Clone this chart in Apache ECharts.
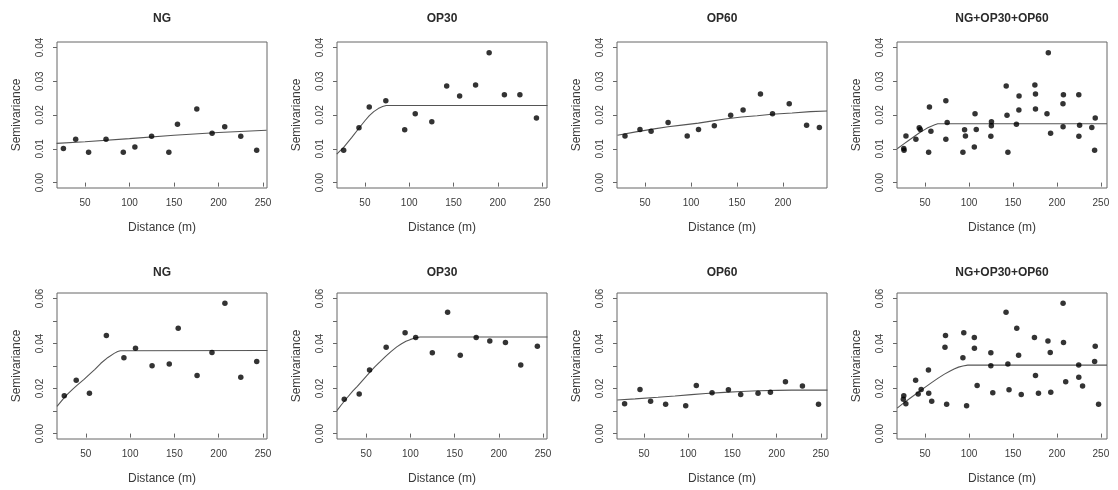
<!DOCTYPE html>
<html>
<head>
<meta charset="utf-8">
<script src="https://cdn.jsdelivr.net/npm/echarts@6/dist/echarts.min.js"></script>
<style>
html,body{margin:0;padding:0;background:#fff;}
#chart{width:1118px;height:490px;}
</style>
</head>
<body>
<div id="chart"></div>
<script>
// ---------- data ----------
const panelTitles = ['NG', 'OP30', 'OP60', 'NG+OP30+OP60'];
const xTickValues = [50, 100, 150, 200, 250];
const xTickValuesShort = [50, 100, 150, 200];
const yTickTop = [0, 0.01, 0.02, 0.03, 0.04];
const yTickBottom = [0, 0.01, 0.02, 0.03, 0.04, 0.05, 0.06];
const yLabelBottom = [0, 0.02, 0.04, 0.06];

// top row
const ngTopDist = [25.7, 39.5, 54, 73.6, 93, 106, 124.8, 144.2, 153.9, 175.6, 192.8, 207, 225, 242.9];
const ngTopSemi = [0.0101, 0.0128, 0.0090, 0.0128, 0.0090, 0.0105, 0.0137, 0.0090, 0.0173, 0.0218, 0.0146, 0.0165, 0.0137, 0.0096];
const op30TopDist = [26, 43.3, 54.9, 73.6, 94.9, 106.8, 125.5, 142.3, 156.9, 174.9, 190.2, 207.4, 224.9, 243.6];
const op30TopSemi = [0.0096, 0.0162, 0.0224, 0.0242, 0.0156, 0.0204, 0.0180, 0.0286, 0.0256, 0.0289, 0.0384, 0.0260, 0.0260, 0.0191];
const op60TopDist = [28.2, 44.5, 56.6, 75.1, 95.9, 108.2, 125.4, 143.2, 156.7, 175.6, 188.7, 206.9, 225.8, 239.7];
const op60TopSemi = [0.0138, 0.0157, 0.0152, 0.0178, 0.0138, 0.0157, 0.0168, 0.0199, 0.0215, 0.0262, 0.0204, 0.0233, 0.0170, 0.0163];

const ngTopFitDist = [18, 50, 100, 150, 200, 254];
const ngTopFitSemi = [0.0116, 0.0121, 0.0130, 0.0140, 0.0148, 0.0155];
const op30TopFitDist = [18.2, 26, 35, 43, 50, 55, 60, 65, 70, 74, 256];
const op30TopFitSemi = [0.0084, 0.0104, 0.0133, 0.0160, 0.0183, 0.0198, 0.0210, 0.0219, 0.0225, 0.0228, 0.0228];
const op60TopFitDist = [20, 40, 60, 75, 90, 108, 122, 137, 155, 172, 188, 210, 230, 248];
const op60TopFitSemi = [0.0140, 0.0150, 0.0159, 0.0165, 0.0170, 0.0176, 0.0182, 0.0188, 0.0194, 0.0198, 0.0202, 0.0206, 0.0210, 0.0212];
const allTopFitDist = [18.2, 25, 32, 38, 44, 49, 53, 57, 61, 64.4, 257];
const allTopFitSemi = [0.0100, 0.0113, 0.0126, 0.0137, 0.0148, 0.0156, 0.0162, 0.0167, 0.0171, 0.0174, 0.0174];

// bottom row
const ngBotDist = [25.7, 39.2, 54.1, 73.2, 93, 106.1, 124.8, 144.2, 154.3, 175.6, 192.4, 207, 224.9, 242.9];
const ngBotSemi = [0.0168, 0.0237, 0.0179, 0.0435, 0.0337, 0.0379, 0.0301, 0.0309, 0.0468, 0.0258, 0.0360, 0.0578, 0.0250, 0.0320];
const op30BotDist = [25.2, 42.1, 53.8, 72.6, 94, 106, 124.8, 142.1, 156.4, 174.4, 189.8, 207.5, 224.8, 243.6];
const op30BotSemi = [0.0152, 0.0176, 0.0282, 0.0383, 0.0448, 0.0426, 0.0359, 0.0539, 0.0348, 0.0426, 0.0411, 0.0404, 0.0304, 0.0388];
const op60BotDist = [28.1, 45.5, 57.5, 74.5, 97.2, 109.2, 127, 145.5, 159.4, 179, 193, 210, 229.2, 247.4];
const op60BotSemi = [0.0132, 0.0196, 0.0143, 0.0130, 0.0124, 0.0214, 0.0181, 0.0195, 0.0174, 0.0179, 0.0183, 0.0230, 0.0211, 0.0130];

const ngBotFitDist = [17.5, 25.7, 30, 35, 40, 48, 55, 60, 67, 75, 82, 86, 89, 255];
const ngBotFitSemi = [0.0121, 0.0160, 0.0177, 0.0196, 0.0214, 0.0241, 0.0266, 0.0284, 0.0312, 0.0338, 0.0356, 0.0364, 0.0368, 0.0369];
const op30BotFitDist = [16.9, 22, 28.2, 35, 40, 47, 55, 60, 65.8, 72, 78, 84.6, 90, 95, 99.6, 105, 110.9, 255];
const op30BotFitSemi = [0.0102, 0.0128, 0.0158, 0.0190, 0.0210, 0.0241, 0.0276, 0.0297, 0.0319, 0.0343, 0.0364, 0.0385, 0.0399, 0.0410, 0.0417, 0.0424, 0.0429, 0.0429];
const op60BotFitDist = [19.8, 40, 65.8, 85, 103.6, 120, 141, 160, 179, 200, 216.8, 257.5];
const op60BotFitSemi = [0.0149, 0.0154, 0.0161, 0.0167, 0.0173, 0.0178, 0.0183, 0.0187, 0.0190, 0.0192, 0.0193, 0.0193];
const allBotFitDist = [18.2, 25, 34, 42, 49, 57, 64.4, 72, 78, 83, 88, 93, 98.5, 257];
const allBotFitSemi = [0.0113, 0.0134, 0.0160, 0.0183, 0.0203, 0.0225, 0.0245, 0.0264, 0.0277, 0.0287, 0.0295, 0.0300, 0.0304, 0.0304];

// ---------- build ----------
function pairs(xs, ys) { return xs.map((x, i) => [x, ys[i]]); }

const panels = [
  { pts: pairs(ngTopDist, ngTopSemi), fit: pairs(ngTopFitDist, ngTopFitSemi) },
  { pts: pairs(op30TopDist, op30TopSemi), fit: pairs(op30TopFitDist, op30TopFitSemi) },
  { pts: pairs(op60TopDist, op60TopSemi), fit: pairs(op60TopFitDist, op60TopFitSemi) },
  { pts: pairs(ngTopDist, ngTopSemi).concat(pairs(op30TopDist, op30TopSemi), pairs(op60TopDist, op60TopSemi)),
    fit: pairs(allTopFitDist, allTopFitSemi) },
  { pts: pairs(ngBotDist, ngBotSemi), fit: pairs(ngBotFitDist, ngBotFitSemi) },
  { pts: pairs(op30BotDist, op30BotSemi), fit: pairs(op30BotFitDist, op30BotFitSemi) },
  { pts: pairs(op60BotDist, op60BotSemi), fit: pairs(op60BotFitDist, op60BotFitSemi) },
  { pts: pairs(ngBotDist, ngBotSemi).concat(pairs(op30BotDist, op30BotSemi), pairs(op60BotDist, op60BotSemi)),
    fit: pairs(allBotFitDist, allBotFitSemi) }
];

const lefts = [57, 337, 617, 897];
const tops = [42, 293];
const W = 210, H = 146;
const xMin = [18.5, 18.5, 19.5, 18, 17.5, 17, 19.5, 18];
const xMax = [254.5, 255.5, 248, 257, 254.5, 254.5, 257, 257];

const FONT = '"Liberation Sans", Arial, sans-serif';
const txtColor = '#3a3a3a';
const axisColor = '#666';

const grids = [], xAxes = [], yAxes = [], series = [], graphics = [];
panels.forEach((p, i) => {
  const row = i < 4 ? 0 : 1;
  const col = i % 4;
  grids.push({
    left: lefts[col], top: tops[row], width: W, height: H,
    show: true, borderColor: axisColor, borderWidth: 1, backgroundColor: 'transparent',
    containLabel: false
  });
  const xt = (i === 2) ? xTickValuesShort : xTickValues;
  xAxes.push({
    type: 'value', gridIndex: i, min: xMin[i], max: xMax[i],
    name: 'Distance (m)', nameLocation: 'middle', nameGap: 34,
    nameTextStyle: { fontFamily: FONT, fontSize: 12, color: txtColor },
    axisLine: { show: false },
    axisTick: { show: true, inside: false, length: 4, customValues: xt, lineStyle: { color: axisColor } },
    axisLabel: { customValues: xt, margin: 10, fontFamily: FONT, fontSize: 10, color: txtColor },
    splitLine: { show: false }
  });
  const yt = row === 0 ? yTickTop : yTickBottom;
  const yl = row === 0 ? yTickTop : yLabelBottom;
  yAxes.push({
    type: 'value', gridIndex: i,
    min: row === 0 ? -0.0016 : -0.0024, max: row === 0 ? 0.0416 : 0.0624,
    name: 'Semivariance', nameLocation: 'middle', nameRotate: 90, nameGap: 34,
    nameTextStyle: { fontFamily: FONT, fontSize: 12, color: txtColor },
    axisLine: { show: false },
    axisTick: { show: true, inside: false, length: 4, customValues: yt, lineStyle: { color: axisColor } },
    axisLabel: { customValues: yl, rotate: 90, margin: 12, fontFamily: FONT, fontSize: 10, color: txtColor,
                 formatter: v => Number(v).toFixed(2) },
    splitLine: { show: false }
  });
  series.push({
    type: 'line', xAxisIndex: i, yAxisIndex: i, data: p.fit,
    showSymbol: false, smooth: false,
    lineStyle: { color: '#555', width: 1.1 }, silent: true, z: 2
  });
  series.push({
    type: 'scatter', xAxisIndex: i, yAxisIndex: i, data: p.pts,
    symbol: 'circle', symbolSize: 5.5, itemStyle: { color: '#000' }, silent: true, z: 3
  });
  graphics.push({
    type: 'text', x: lefts[col] + W / 2, y: row === 0 ? 19 : 273,
    style: { text: panelTitles[col], align: 'center', verticalAlign: 'middle',
             font: 'bold 12px ' + FONT, fill: '#2a2a2a' }
  });
});

const chart = echarts.init(document.getElementById('chart'), null, { renderer: 'canvas' });
chart.setOption({
  animation: false,
  backgroundColor: '#fff',
  grid: grids, xAxis: xAxes, yAxis: yAxes, series: series,
  graphic: graphics
});
</script>
</body>
</html>
